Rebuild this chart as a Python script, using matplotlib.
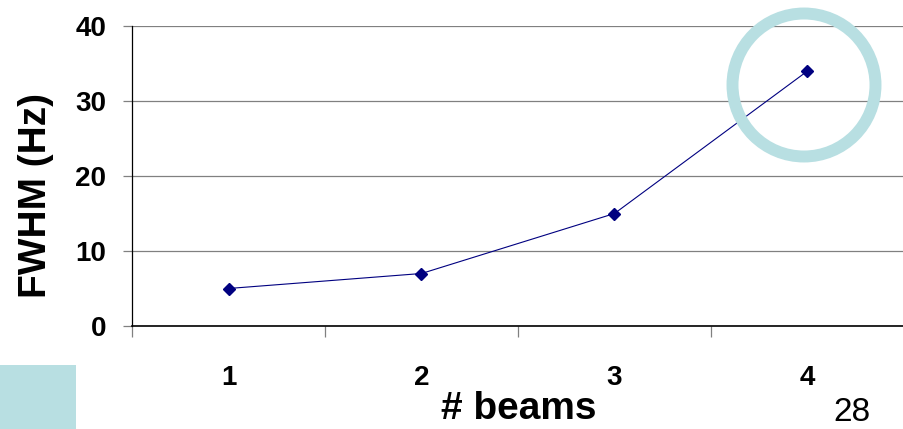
import matplotlib.pyplot as plt
from matplotlib.patches import Ellipse, Rectangle

plt.rcParams['font.family'] = ['Liberation Sans', 'DejaVu Sans']

# FWHM vs number of beams
beams = [1, 2, 3, 4]
beam_labels = ['1', '2', '3', '4']
fwhm = [5, 7, 15, 34]
y_ticks = [0, 10, 20, 30, 40]

W, H = 904, 429
fig = plt.figure(figsize=(W / 100, H / 100), dpi=100)
ax = fig.add_axes([132 / W, 103 / H, 772 / W, 300 / H])

ax.plot(beams, fwhm, color='#000080', lw=0.8, marker='D', markersize=6.5,
        markerfacecolor='#000080', markeredgecolor='#000080', zorder=3)

ax.set_xlim(0.5, 4.5)
ax.set_ylim(0, 40)

# gridlines and axis
ax.set_yticks(y_ticks)
ax.set_yticklabels([str(v) for v in y_ticks], fontsize=20, fontweight='bold')
ax.yaxis.grid(True, color='#808080', lw=0.9)
ax.tick_params(axis='y', length=6.5, width=0.9, color='#808080', pad=12)

# category boundaries as major ticks, names on minor ticks
ax.set_xticks([0.5, 1.5, 2.5, 3.5])
ax.set_xticklabels([])
ax.set_xticks(beams, minor=True)
ax.set_xticklabels(beam_labels, minor=True, fontsize=20, fontweight='bold')
ax.tick_params(axis='x', which='major', length=8, width=0.9, color='#808080')
ax.tick_params(axis='x', which='minor', length=0, pad=28)

for s in ['top', 'right']:
    ax.spines[s].set_visible(False)
ax.spines['left'].set_color('black')
ax.spines['bottom'].set_color('black')
ax.spines['left'].set_linewidth(0.9)
ax.spines['bottom'].set_linewidth(1.2)
ax.set_axisbelow(True)

fig.text(36 / W, 1 - 196 / H, 'FWHM (Hz)', rotation=90, ha='center', va='center',
         fontsize=28, fontweight='bold')
fig.text(519 / W, 10 / H, '# beams', ha='center', va='baseline',
         fontsize=28, fontweight='bold')
fig.text(852 / W, 1 / H, '28', ha='center', va='bottom', fontsize=24)

# highlight ring around the last point
ring_color = '#b8dfe2'
fig.add_artist(Ellipse((804 / W, 1 - 85 / H), 2 * 71.5 / W, 2 * 71.5 / H,
                       transform=fig.transFigure, fill=False,
                       edgecolor=ring_color, lw=8.6, zorder=10))
fig.add_artist(Rectangle((0, 0), 76 / W, 64 / H, transform=fig.transFigure,
                         facecolor=ring_color, edgecolor='none', zorder=0))

fig.savefig('out.png', dpi=100)
